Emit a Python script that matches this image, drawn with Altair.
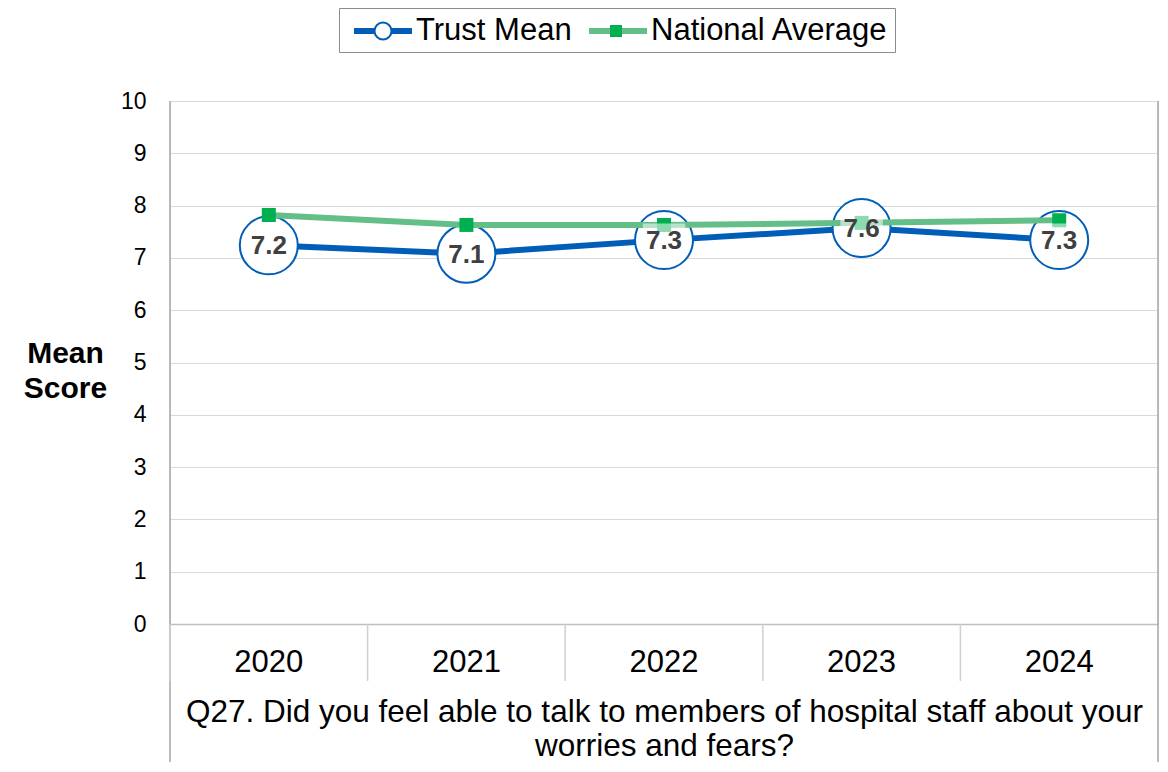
import altair as alt
import pandas as pd

# ---- data ----
years = ["2020", "2021", "2022", "2023", "2024"]
trust_mean = [7.24, 7.08, 7.34, 7.57, 7.34]
national_avg = [7.82, 7.63, 7.63, 7.67, 7.72]
series_names = ["Trust Mean", "National Average"]
marker_keys = ["T", "N"]
question = ["Q27. Did you feel able to talk to members of hospital staff about your",
            "worries and fears?"]
y_title = ["Mean", "Score"]
y_ticks = list(range(0, 11))

# ---- styling ----
FONT = "Liberation Sans, Arial, sans-serif"
BLUE = "#005EB8"
GREEN_LINE = "#63BE87"
GREEN_SQ = "#00B050"
GRID = "#d9d9d9"
BORDER = "#a6a6a6"
W, H = 988, 523

rows = []
for y, t, n in zip(years, trust_mean, national_avg):
    rows.append({"year": y, "series": series_names[0], "mk": marker_keys[0], "value": t})
    rows.append({"year": y, "series": series_names[1], "mk": marker_keys[1], "value": n})
df = pd.DataFrame(rows)
years_df = pd.DataFrame({"year": years})
one_df = pd.DataFrame({"k": [0]})

x_scale = alt.Scale(type="band", paddingInner=0, paddingOuter=0)
y_scale = alt.Scale(domain=[0, 10], nice=False)

x_axis = alt.Axis(
    labelAngle=0, labelFontSize=31, labelFont=FONT, labelColor="black", labelPadding=23,
    ticks=False, domain=True, domainColor="#bfbfbf", domainWidth=1.5, grid=False,
    title=question, titleFontSize=31.5, titleFont=FONT, titleFontWeight="normal",
    titleColor="black", titleX=W / 2, titleY=97, titleAlign="center",
    titleBaseline="alphabetic", titleLineHeight=34,
)
y_axis = alt.Axis(
    values=y_ticks, grid=True, gridColor=GRID, gridWidth=1, domain=False, ticks=False,
    labelFontSize=23, labelFont=FONT, labelColor="black", labelPadding=24,
    title=y_title, titleFontSize=30, titleFont=FONT, titleFontWeight="bold",
    titleColor="black", titleAngle=0, titleAlign="center", titleBaseline="middle",
    titleX=-105, titleY=252, titleLineHeight=35,
)

X = alt.X("year:N", scale=x_scale, bandPosition=0.5, axis=x_axis, sort=years)
Y = alt.Y("value:Q", scale=y_scale, axis=y_axis)

# ---- legend: a line legend with a marker legend laid over it ----
LEG_X, LEG_Y = 169, -93
common_legend = dict(
    title=None, orient="none", legendY=LEG_Y, direction="horizontal",
    labelFontSize=31, labelFont=FONT, padding=6, labelLimit=600,
)
# line symbol: 14 px per unit -> line from -8 px to +50 px around the symbol slot centre
LINE_PATH = "M-0.571,0H3.571"
line_legend = alt.Legend(
    symbolType=LINE_PATH, symbolSize=784, symbolStrokeWidth=6, labelColor="black",
    labelOffset=37, columnPadding=5, strokeColor="#8c8c8c", fillColor="white",
    zindex=1, legendX=LEG_X, **common_legend,
)
# markers: 16 px per unit
CIRCLE_PATH = "M0.531,0A0.531,0.531,0,1,1,-0.531,0A0.531,0.531,0,1,1,0.531,0Z"
SQUARE_PATH = "M-0.375,-0.375H0.375V0.375H-0.375Z"
marker_legend = alt.Legend(
    symbolSize=1024, symbolStrokeWidth=2, zindex=2, labelExpr="''",
    labelOffset=37, columnPadding=162, legendX=LEG_X + 21, **common_legend,
)

line_color = alt.Color("series:N", scale=alt.Scale(domain=series_names, range=[BLUE, GREEN_LINE]),
                       legend=line_legend)
m_shape = alt.Shape("mk:N", scale=alt.Scale(domain=marker_keys, range=[CIRCLE_PATH, SQUARE_PATH]),
                    legend=marker_legend)
m_fill = alt.Fill("mk:N", scale=alt.Scale(domain=marker_keys, range=["white", GREEN_SQ]),
                  legend=marker_legend)
m_stroke = alt.Stroke("mk:N", scale=alt.Scale(domain=marker_keys, range=[BLUE, "transparent"]),
                      legend=marker_legend)

base = alt.Chart(df)

frame_left = alt.Chart(one_df).mark_rule(color=BORDER, strokeWidth=1.5).encode(
    x=alt.value(0), y=alt.value(0), y2=alt.value(H + 150))
frame_right = alt.Chart(one_df).mark_rule(color=BORDER, strokeWidth=1.5).encode(
    x=alt.value(W), y=alt.value(0), y2=alt.value(H + 150))
dividers = alt.Chart(years_df).mark_rule(color="#d0d0d0", strokeWidth=1.5).encode(
    x=alt.X("year:N", scale=x_scale, bandPosition=0, axis=x_axis, sort=years),
    y=alt.value(H), y2=alt.value(H + 57))

trust = base.transform_filter(alt.datum.series == series_names[0])
nat = base.transform_filter(alt.datum.series == series_names[1])

trust_line = trust.mark_line(strokeWidth=6).encode(x=X, y=Y, color=line_color)

# plot circle radius 29 px: 0.531 * sqrt(11930) / 2
trust_circles = trust.mark_point(
    filled=True, opacity=1, size=11930, strokeWidth=2).encode(
    x=X, y=Y, shape=m_shape, fill=m_fill, stroke=m_stroke)

nat_line = nat.mark_line(strokeWidth=6).encode(x=X, y=Y, color=line_color)

# plot square half side 7 px: 0.375 * sqrt(1394) / 2
nat_squares = nat.mark_point(
    filled=True, opacity=1, size=1394, strokeWidth=2).encode(
    x=X, y=Y, shape=m_shape, fill=m_fill, stroke=m_stroke)

label_bg = trust.mark_point(
    shape="M-1,-0.78H1V0.78H-1Z", filled=True, color="white", opacity=0.55,
    size=1800, strokeWidth=0).encode(x=X, y=Y)

labels = trust.mark_text(
    font=FONT, fontSize=26, fontWeight="bold", color="#404040",
    align="center", baseline="middle", dy=1).encode(
    x=X, y=Y, text=alt.Text("value:Q", format=".1f"))

chart = alt.layer(
    frame_left, frame_right, dividers, trust_line, trust_circles,
    nat_line, nat_squares, label_bg, labels,
).properties(
    width=W, height=H,
    autosize=alt.AutoSizeParams(type="none"),
    padding={"left": 162, "top": 93, "right": 2, "bottom": 138},
).configure_view(stroke=None).configure(font=FONT)

chart.save("out.html", embed_options={"renderer": "svg", "actions": False})
